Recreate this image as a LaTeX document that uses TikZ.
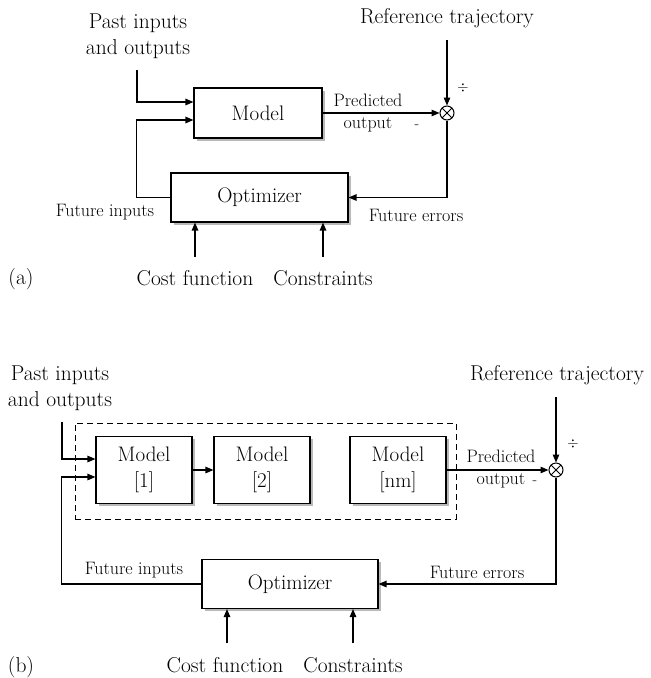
\documentclass[tikz,border=0pt]{standalone}
\usepackage{amssymb}
\usetikzlibrary{arrows.meta,positioning,shadows,calc}

\begin{document}
\begin{tikzpicture}[x=1pt,y=-1pt,
	block/.style={draw, line width=1.1pt, fill=white, inner sep=0pt, align=center,
		font=\fontsize{21}{26}\selectfont,
		drop shadow={shadow xshift=2.5pt, shadow yshift=-2.5pt, fill=gray!55, opacity=1}},
	group/.style={draw, line width=1pt, dash pattern=on 6pt off 4pt, inner sep=0pt},
	summer/.style={circle, draw, line width=1pt, fill=white, minimum size=14pt, inner sep=0pt,
		path picture={\draw[line width=0.9pt] (path picture bounding box.north west) -- (path picture bounding box.south east)
			(path picture bounding box.north east) -- (path picture bounding box.south west);}},
	biglabel/.style={align=center, inner sep=0pt, font=\fontsize{21.5}{26}\selectfont},
	smalllabel/.style={align=center, inner sep=0pt, font=\fontsize{18}{22}\selectfont},
	sign/.style={inner sep=0pt, font=\fontsize{15}{15}\selectfont},
	paths/.style={->, line width=1.2pt, >={Triangle[length=8pt,width=6.5pt]}}
	] % End of styles
\useasboundingbox (0,0) rectangle (651,678);

% ---------------- (a) single model ----------------
\node [block, minimum width=128pt, minimum height=50pt] at (258,113) (modelA) {Model};
\node [block, minimum width=177pt, minimum height=49pt] at (259.5,197.5) (optA) {Optimizer};
\node [summer] at (447,113) (sumA) {};

\node [biglabel] at (138,36) (pastA) {Past inputs\\and outputs};
\node [biglabel] at (447,18) (refA) {Reference trajectory};
\node [smalllabel] at (368,113) (predA) {Predicted\\output};
\node [sign] at (417,127) (minusA) {-};
\node [sign] at (463,88) (plusA) {$\div$};
\node [smalllabel] at (105,212) (futinA) {Future inputs};
\node [smalllabel] at (416,215) (futerrA) {Future errors};
\node [biglabel] at (195,278) (costA) {Cost function};
\node [biglabel] at (323,278) (consA) {Constraints};
\node [biglabel] at (21,279) (labA) {(a)};

\coordinate (inA) at (137,70);
\coordinate (rA) at (447,40);
\coordinate (cfA) at (195,257);
\coordinate (ctA) at (323,257);
\coordinate (mA1) at ([yshift=11pt]modelA.west);
\coordinate (mA2) at ([yshift=-7pt]modelA.west);

% paths
\draw[paths] (inA) |- (mA1);
\draw[paths] (optA.west) -- ++(-34,0) |- (mA2);
\draw[paths] (modelA.east) -- (sumA.west);
\draw[paths] (rA) -- (sumA.north);
\draw[paths] (sumA.south) |- (optA.east);
\draw[paths] (cfA) -- (cfA |- optA.south);
\draw[paths] (ctA) -- (ctA |- optA.south);

% ---------------- (b) chain of models ----------------
\node [group, minimum width=381pt, minimum height=96pt] at (265.5,471) (chain) {};
\node [block, minimum width=96pt, minimum height=67pt] at (144,470) (m1) {Model\\{[1]}};
\node [block, minimum width=96pt, minimum height=67pt] at (262,470) (m2) {Model\\{[2]}};
\node [block, minimum width=96pt, minimum height=67pt] at (398,470) (mnm) {Model\\{[nm]}};
\node [block, minimum width=176pt, minimum height=49pt] at (290,584) (optB) {Optimizer};
\node [summer] at (556,470) (sumB) {};

\node [biglabel] at (60,388) (pastB) {Past inputs\\and outputs};
\node [biglabel] at (557,375) (refB) {Reference trajectory};
\node [smalllabel] at (501,469) (predB) {Predicted\\output};
\node [sign] at (535,483) (minusB) {-};
\node [sign] at (573,444) (plusB) {$\div$};
\node [smalllabel] at (134,570) (futinB) {Future inputs};
\node [smalllabel] at (477,572) (futerrB) {Future errors};
\node [biglabel] at (225,665) (costB) {Cost function};
\node [biglabel] at (353,665) (consB) {Constraints};
\node [biglabel] at (21,667) (labB) {(b)};

\coordinate (inB) at (62,422);
\coordinate (rB) at (556,397);
\coordinate (cfB) at (227,643);
\coordinate (ctB) at (353,643);
\coordinate (m1a) at ([yshift=11pt]m1.west);
\coordinate (m1b) at ([yshift=-7pt]m1.west);

% paths
\draw[paths] (inB) |- (m1a);
\draw[paths] (optB.west) -- ++(-140,0) |- (m1b);
\draw[paths] (m1.east) -- (m2.west);
\draw[paths] (mnm.east) -- (sumB.west);
\draw[paths] (rB) -- (sumB.north);
\draw[paths] (sumB.south) |- (optB.east);
\draw[paths] (cfB) -- (cfB |- optB.south);
\draw[paths] (ctB) -- (ctB |- optB.south);

\end{tikzpicture}
\end{document}
